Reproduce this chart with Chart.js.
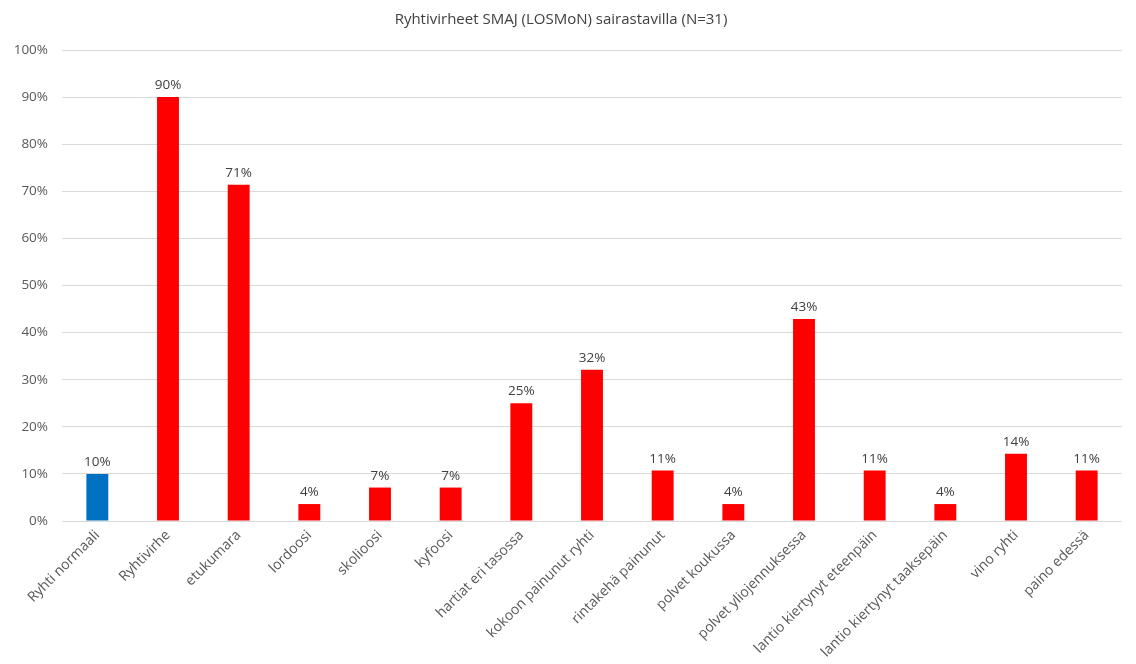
<!DOCTYPE html>
<html>
<head>
<meta charset="utf-8">
<script src="https://cdn.jsdelivr.net/npm/chart.js@4"></script>
<style>
  html, body { margin: 0; padding: 0; background: #fff; overflow: hidden; }
</style>
</head>
<body>
<canvas id="ryhtiChart" width="1136" height="664"></canvas>
<script>
// Categories and values (percent)
const categories = [
  "Ryhti normaali",
  "Ryhtivirhe",
  "etukumara",
  "lordoosi",
  "skolioosi",
  "kyfoosi",
  "hartiat eri tasossa",
  "kokoon painunut ryhti",
  "rintakehä painunut",
  "polvet koukussa",
  "polvet yliojennuksessa",
  "lantio kiertynyt eteenpäin",
  "lantio kiertynyt taaksepäin",
  "vino ryhti",
  "paino edessä",
];
const percentValues = [10, 90, 71.4, 3.6, 7.1, 7.1, 25, 32.1, 10.7, 3.6, 42.9, 10.7, 3.6, 14.3, 10.7];
const yTicks = [0, 10, 20, 30, 40, 50, 60, 70, 80, 90, 100];

const barColors = categories.map((c, i) => (i === 0 ? "#0070C0" : "#FF0000"));
const fontFamily = "'Open Sans', 'Noto Sans', sans-serif";

// Draw value labels above the bars
const valueLabels = {
  id: "valueLabels",
  afterDatasetsDraw(chart) {
    const ctx = chart.ctx;
    const meta = chart.getDatasetMeta(0);
    ctx.save();
    ctx.font = "13.5px " + fontFamily;
    ctx.fillStyle = "#404040";
    ctx.textAlign = "center";
    ctx.textBaseline = "bottom";
    meta.data.forEach((bar, i) => {
      ctx.fillText(Math.round(percentValues[i]) + "%", bar.x, bar.y - 5);
    });
    ctx.restore();
  },
};

const ctx = document.getElementById("ryhtiChart").getContext("2d");
const ryhtiChart = new Chart(ctx, {
  type: "bar",
  data: {
    labels: categories,
    datasets: [
      {
        data: percentValues,
        backgroundColor: barColors,
        borderWidth: 0,
        barPercentage: 0.62,
        categoryPercentage: 0.5,
      },
    ],
  },
  options: {
    responsive: false,
    devicePixelRatio: 1,
    animation: false,
    layout: { padding: { left: 0, right: 14, top: 0, bottom: 0 } },
    plugins: {
      legend: { display: false },
      tooltip: { enabled: false },
      title: {
        display: true,
        text: "Ryhtivirheet SMAJ (LOSMoN) sairastavilla (N=31)",
        color: "#404040",
        font: { family: fontFamily, size: 15, weight: "normal" },
        padding: { top: 11, bottom: 21 },
      },
    },
    scales: {
      x: {
        grid: { display: false, drawTicks: false },
        border: { display: false },
        ticks: {
          color: "#595959",
          font: { family: fontFamily, size: 14 },
          minRotation: 45,
          maxRotation: 45,
          padding: 6,
          autoSkip: false,
        },
        afterFit(scale) {
          scale.height = 143;
        },
      },
      y: {
        min: 0,
        max: 100,
        afterBuildTicks(scale) {
          scale.ticks = yTicks.map((v) => ({ value: v }));
        },
        grid: { color: "#d9d9d9", drawTicks: false },
        border: { display: false },
        ticks: {
          color: "#595959",
          font: { family: fontFamily, size: 13.5 },
          padding: 14,
          callback: (v) => v + "%",
        },
        afterFit(scale) {
          scale.width = 62;
        },
      },
    },
  },
  plugins: [valueLabels],
});
</script>
</body>
</html>
